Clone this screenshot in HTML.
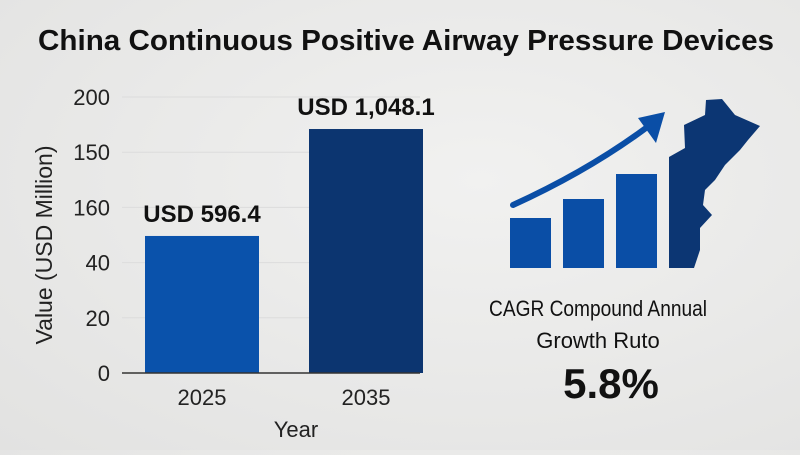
<!DOCTYPE html>
<html><head><meta charset="utf-8"><style>
body{margin:0;width:800px;height:450px;overflow:hidden;background:radial-gradient(ellipse at 60% 40%,#f1f1f0,#e2e2e1);font-family:"Liberation Sans",sans-serif}
</style></head><body>
<svg width="800" height="450" id="svg">
<text x="406" y="50" text-anchor="middle" font-size="29" font-weight="bold" fill="#111" textLength="736" lengthAdjust="spacingAndGlyphs">China Continuous Positive Airway Pressure Devices</text>
<text transform="translate(52,245) rotate(-90)" text-anchor="middle" font-size="23" fill="#222">Value (USD Million)</text>
<text x="296" y="437" text-anchor="middle" font-size="22" fill="#222">Year</text>
<g id="plot"></g>
<g>
<rect x="510" y="218" width="41" height="50" fill="#0a4ea6"/>
<rect x="563" y="199" width="41" height="69" fill="#0a4ea6"/>
<rect x="616" y="174" width="41" height="94" fill="#0a4ea6"/>
<path d="M513,205 Q590,170 650,125" stroke="#0a4ea6" stroke-width="6" fill="none" stroke-linecap="round"/>
<polygon points="665,112 638,118 656,143" fill="#0a4ea6"/>
<path d="M669,157 L685,148 L684,125 L705,115 L706,100 L722,99 L735,115 L760,126 L748,140 L740,150 L725,165 L715,180 L705,190 L703,205 L712,215 L700,228 L700,250 L694,268 L669,268 Z" fill="#0c3673"/>
</g>
<text x="598" y="316" text-anchor="middle" font-size="22" fill="#111" textLength="218" lengthAdjust="spacingAndGlyphs">CAGR Compound Annual</text>
<text x="598" y="348" text-anchor="middle" font-size="22" fill="#111">Growth Ruto</text>
<text x="611" y="398" text-anchor="middle" font-size="42" font-weight="bold" fill="#111">5.8%</text>
</svg>
<script>
const categories=["2025","2035"];
const values=[99.3,176.8];
const valueLabels=["USD 596.4","USD 1,048.1"];
const tickValues=[0,40,80,120,160,200];
const tickLabels=["0","20","40","160","150","200"];
const colors=["#0a52ab","#0c3570"];
const y=v=>373-v*1.38;
const x=i=>145+i*164;
const ns="http://www.w3.org/2000/svg";
const g=document.getElementById("plot");
function mk(t,a){const e=document.createElementNS(ns,t);for(const k in a)e.setAttribute(k,a[k]);g.appendChild(e);return e;}
tickValues.forEach((v,i)=>{
 const t=mk("text",{x:110,y:y(v)+8,"text-anchor":"end","font-size":22,fill:"#222"});t.textContent=tickLabels[i];
 
 
 if(v>0){const l=mk("line",{x1:122,x2:420,y1:y(v),y2:y(v),stroke:"#dcdcdc","stroke-width":1});
 
 }
});
values.forEach((v,i)=>{
 const r=mk("rect",{x:x(i),y:y(v),width:114,height:373-y(v),fill:colors[i]});
 
 
 const t=mk("text",{x:x(i)+57,y:y(v)-14,"text-anchor":"middle","font-size":24,"font-weight":"bold",fill:"#111"});t.textContent=valueLabels[i];
 
 
 const c=mk("text",{x:x(i)+57,y:405,"text-anchor":"middle","font-size":22,fill:"#222"});c.textContent=categories[i];
 
 
});
const ax=mk("line",{x1:122,x2:420,y1:373,y2:373,stroke:"#333","stroke-width":1.5});


</script>
</body></html>
